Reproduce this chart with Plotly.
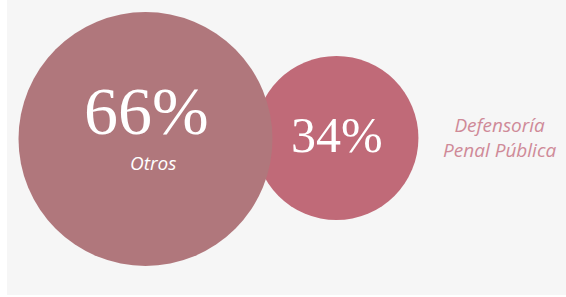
import plotly.graph_objects as go

# Data
categories = ["Otros", "Defensoría<br>Penal Pública"]
values = [66, 34]
value_labels = ["66%", "34%"]
colors = ["#b0777c", "#c06a78"]

W, H = 566, 297

# Bubble scale: diameter in px from value (power scale)
def diam(v):
    return 254 * (v / max(values)) ** 0.66

d0, d1 = diam(values[0]), diam(values[1])
cx0, cy0 = 145.5, 139
overlap = 18
cx1 = cx0 + d0 / 2 + d1 / 2 - overlap
cy1 = 138

fig = go.Figure()

# small bubble first (drawn beneath), then large bubble
fig.add_trace(go.Scatter(
    x=[cx1], y=[cy1], mode="markers",
    marker=dict(size=[d1], sizemode="diameter", color=colors[1], line=dict(width=0), opacity=1),
    hoverinfo="skip", showlegend=False))
fig.add_trace(go.Scatter(
    x=[cx0], y=[cy0], mode="markers",
    marker=dict(size=[d0], sizemode="diameter", color=colors[0], line=dict(width=0), opacity=1),
    hoverinfo="skip", showlegend=False))

# Percent labels
fig.add_annotation(x=cx0 + 1, y=cy0 - 28, text=value_labels[0], showarrow=False,
                   height=58, valign="middle",
                   font=dict(family="Liberation Serif", size=68, color="white"))
fig.add_annotation(x=cx1 + 1, y=cy1 - 3, text=value_labels[1], showarrow=False,
                   font=dict(family="Liberation Serif", size=50, color="white"))
# Category labels
fig.add_annotation(x=cx0 + 7, y=cy0 + 24, text=categories[0], showarrow=False,
                   font=dict(family="Open Sans", size=19, color="white", style="italic"))
fig.add_annotation(x=500, y=cy1 - 1, text=categories[1], showarrow=False, align="center",
                   font=dict(family="Open Sans", size=19, color="#cf8a98", style="italic"))

fig.update_layout(
    width=W, height=H,
    margin=dict(l=0, r=0, t=0, b=0),
    paper_bgcolor="white", plot_bgcolor="rgba(0,0,0,0)",
    xaxis=dict(range=[0, W], visible=False, fixedrange=True),
    yaxis=dict(range=[H, 0], visible=False, fixedrange=True),
    shapes=[dict(type="rect", xref="x", yref="y", x0=7, x1=W, y0=0, y1=295,
                 fillcolor="#f6f6f6", line=dict(width=0), layer="below")],
)

fig.write_html("out.html", config={"displayModeBar": False},
               post_script="document.body.style.margin='0';document.body.style.overflow='hidden';")
